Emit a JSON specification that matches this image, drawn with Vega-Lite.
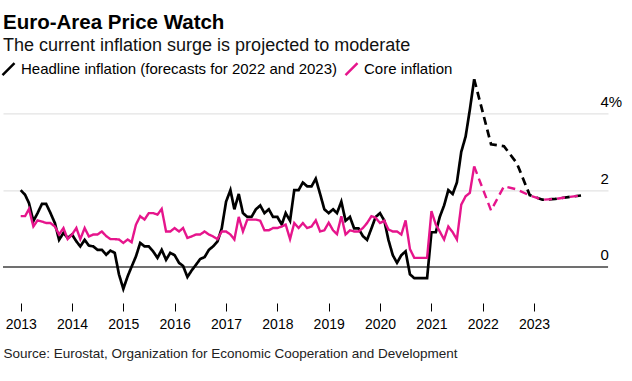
{
"$schema": "https://vega.github.io/schema/vega-lite/v6.json",
"width": 605, "height": 227.6,
"autosize": {"type": "none"},
"padding": {"left": 3, "top": 75.4, "right": 24, "bottom": 78},
"background": "white",
"config": {"font": "Liberation Sans", "view": {"stroke": null}},
"title": {"text": "Euro-Area Price Watch", "subtitle": "The current inflation surge is projected to moderate", "anchor": "start", "frame": "group", "fontSize": 20.5, "fontWeight": "bold", "color": "#000000", "subtitleFontSize": 18, "subtitleColor": "#111111", "subtitlePadding": 4, "offset": 6},
"data": {"values": [
{"d":"2013-01-01","s":"H","k":"a","v":2.0},{"d":"2013-02-01","s":"H","k":"a","v":1.88},{"d":"2013-03-01","s":"H","k":"a","v":1.66},{"d":"2013-04-01","s":"H","k":"a","v":1.19},{"d":"2013-05-01","s":"H","k":"a","v":1.4},{"d":"2013-06-01","s":"H","k":"a","v":1.64},{"d":"2013-07-01","s":"H","k":"a","v":1.64},{"d":"2013-08-01","s":"H","k":"a","v":1.4},{"d":"2013-09-01","s":"H","k":"a","v":1.14},{"d":"2013-10-01","s":"H","k":"a","v":0.7},{"d":"2013-11-01","s":"H","k":"a","v":0.88},{"d":"2013-12-01","s":"H","k":"a","v":0.75},
{"d":"2014-01-01","s":"H","k":"a","v":0.84},{"d":"2014-02-01","s":"H","k":"a","v":0.66},{"d":"2014-03-01","s":"H","k":"a","v":0.53},{"d":"2014-04-01","s":"H","k":"a","v":0.7},{"d":"2014-05-01","s":"H","k":"a","v":0.55},{"d":"2014-06-01","s":"H","k":"a","v":0.53},{"d":"2014-07-01","s":"H","k":"a","v":0.44},{"d":"2014-08-01","s":"H","k":"a","v":0.44},{"d":"2014-09-01","s":"H","k":"a","v":0.31},{"d":"2014-10-01","s":"H","k":"a","v":0.42},{"d":"2014-11-01","s":"H","k":"a","v":0.36},{"d":"2014-12-01","s":"H","k":"a","v":-0.2},
{"d":"2015-01-01","s":"H","k":"a","v":-0.58},{"d":"2015-02-01","s":"H","k":"a","v":-0.25},{"d":"2015-03-01","s":"H","k":"a","v":0.0},{"d":"2015-04-01","s":"H","k":"a","v":0.27},{"d":"2015-05-01","s":"H","k":"a","v":0.62},{"d":"2015-06-01","s":"H","k":"a","v":0.53},{"d":"2015-07-01","s":"H","k":"a","v":0.53},{"d":"2015-08-01","s":"H","k":"a","v":0.4},{"d":"2015-09-01","s":"H","k":"a","v":0.23},{"d":"2015-10-01","s":"H","k":"a","v":0.44},{"d":"2015-11-01","s":"H","k":"a","v":0.18},{"d":"2015-12-01","s":"H","k":"a","v":0.36},
{"d":"2016-01-01","s":"H","k":"a","v":0.3},{"d":"2016-02-01","s":"H","k":"a","v":0.1},{"d":"2016-03-01","s":"H","k":"a","v":0.02},{"d":"2016-04-01","s":"H","k":"a","v":-0.27},{"d":"2016-05-01","s":"H","k":"a","v":-0.1},{"d":"2016-06-01","s":"H","k":"a","v":0.05},{"d":"2016-07-01","s":"H","k":"a","v":0.2},{"d":"2016-08-01","s":"H","k":"a","v":0.25},{"d":"2016-09-01","s":"H","k":"a","v":0.44},{"d":"2016-10-01","s":"H","k":"a","v":0.53},{"d":"2016-11-01","s":"H","k":"a","v":0.66},{"d":"2016-12-01","s":"H","k":"a","v":1.0},
{"d":"2017-01-01","s":"H","k":"a","v":1.7},{"d":"2017-02-01","s":"H","k":"a","v":2.0},{"d":"2017-03-01","s":"H","k":"a","v":1.5},{"d":"2017-04-01","s":"H","k":"a","v":1.9},{"d":"2017-05-01","s":"H","k":"a","v":1.4},{"d":"2017-06-01","s":"H","k":"a","v":1.3},{"d":"2017-07-01","s":"H","k":"a","v":1.3},{"d":"2017-08-01","s":"H","k":"a","v":1.5},{"d":"2017-09-01","s":"H","k":"a","v":1.6},{"d":"2017-10-01","s":"H","k":"a","v":1.4},{"d":"2017-11-01","s":"H","k":"a","v":1.5},{"d":"2017-12-01","s":"H","k":"a","v":1.3},
{"d":"2018-01-01","s":"H","k":"a","v":1.3},{"d":"2018-02-01","s":"H","k":"a","v":1.1},{"d":"2018-03-01","s":"H","k":"a","v":1.4},{"d":"2018-04-01","s":"H","k":"a","v":1.2},{"d":"2018-05-01","s":"H","k":"a","v":2.0},{"d":"2018-06-01","s":"H","k":"a","v":2.0},{"d":"2018-07-01","s":"H","k":"a","v":2.2},{"d":"2018-08-01","s":"H","k":"a","v":2.1},{"d":"2018-09-01","s":"H","k":"a","v":2.1},{"d":"2018-10-01","s":"H","k":"a","v":2.3},{"d":"2018-11-01","s":"H","k":"a","v":1.9},{"d":"2018-12-01","s":"H","k":"a","v":1.5},
{"d":"2019-01-01","s":"H","k":"a","v":1.4},{"d":"2019-02-01","s":"H","k":"a","v":1.5},{"d":"2019-03-01","s":"H","k":"a","v":1.4},{"d":"2019-04-01","s":"H","k":"a","v":1.7},{"d":"2019-05-01","s":"H","k":"a","v":1.2},{"d":"2019-06-01","s":"H","k":"a","v":1.3},{"d":"2019-07-01","s":"H","k":"a","v":1.0},{"d":"2019-08-01","s":"H","k":"a","v":1.0},{"d":"2019-09-01","s":"H","k":"a","v":0.8},{"d":"2019-10-01","s":"H","k":"a","v":0.7},{"d":"2019-11-01","s":"H","k":"a","v":1.0},{"d":"2019-12-01","s":"H","k":"a","v":1.3},
{"d":"2020-01-01","s":"H","k":"a","v":1.4},{"d":"2020-02-01","s":"H","k":"a","v":1.2},{"d":"2020-03-01","s":"H","k":"a","v":0.7},{"d":"2020-04-01","s":"H","k":"a","v":0.3},{"d":"2020-05-01","s":"H","k":"a","v":0.1},{"d":"2020-06-01","s":"H","k":"a","v":0.3},{"d":"2020-07-01","s":"H","k":"a","v":0.4},{"d":"2020-08-01","s":"H","k":"a","v":-0.2},{"d":"2020-09-01","s":"H","k":"a","v":-0.3},{"d":"2020-10-01","s":"H","k":"a","v":-0.3},{"d":"2020-11-01","s":"H","k":"a","v":-0.3},{"d":"2020-12-01","s":"H","k":"a","v":-0.3},
{"d":"2021-01-01","s":"H","k":"a","v":0.9},{"d":"2021-02-01","s":"H","k":"a","v":0.9},{"d":"2021-03-01","s":"H","k":"a","v":1.3},{"d":"2021-04-01","s":"H","k":"a","v":1.6},{"d":"2021-05-01","s":"H","k":"a","v":2.0},{"d":"2021-06-01","s":"H","k":"a","v":1.9},{"d":"2021-07-01","s":"H","k":"a","v":2.2},{"d":"2021-08-01","s":"H","k":"a","v":3.0},{"d":"2021-09-01","s":"H","k":"a","v":3.4},{"d":"2021-10-01","s":"H","k":"a","v":4.1},{"d":"2021-11-01","s":"H","k":"a","v":4.9},
{"d":"2021-11-01","s":"H","k":"f","v":4.9},{"d":"2022-03-01","s":"H","k":"f","v":3.2},{"d":"2022-06-01","s":"H","k":"f","v":3.15},{"d":"2022-09-01","s":"H","k":"f","v":2.7},{"d":"2022-12-01","s":"H","k":"f","v":1.87},{"d":"2023-03-01","s":"H","k":"f","v":1.75},{"d":"2023-06-01","s":"H","k":"f","v":1.77},{"d":"2023-09-01","s":"H","k":"f","v":1.82},{"d":"2023-12-01","s":"H","k":"f","v":1.86},
{"d":"2013-01-01","s":"C","k":"a","v":1.32},{"d":"2013-02-01","s":"C","k":"a","v":1.32},{"d":"2013-03-01","s":"C","k":"a","v":1.51},{"d":"2013-04-01","s":"C","k":"a","v":1.05},{"d":"2013-05-01","s":"C","k":"a","v":1.21},{"d":"2013-06-01","s":"C","k":"a","v":1.18},{"d":"2013-07-01","s":"C","k":"a","v":1.14},{"d":"2013-08-01","s":"C","k":"a","v":1.14},{"d":"2013-09-01","s":"C","k":"a","v":1.05},{"d":"2013-10-01","s":"C","k":"a","v":0.84},{"d":"2013-11-01","s":"C","k":"a","v":1.01},{"d":"2013-12-01","s":"C","k":"a","v":0.72},
{"d":"2014-01-01","s":"C","k":"a","v":0.84},{"d":"2014-02-01","s":"C","k":"a","v":1.01},{"d":"2014-03-01","s":"C","k":"a","v":0.72},{"d":"2014-04-01","s":"C","k":"a","v":1.01},{"d":"2014-05-01","s":"C","k":"a","v":0.79},{"d":"2014-06-01","s":"C","k":"a","v":0.84},{"d":"2014-07-01","s":"C","k":"a","v":0.84},{"d":"2014-08-01","s":"C","k":"a","v":0.92},{"d":"2014-09-01","s":"C","k":"a","v":0.8},{"d":"2014-10-01","s":"C","k":"a","v":0.72},{"d":"2014-11-01","s":"C","k":"a","v":0.72},{"d":"2014-12-01","s":"C","k":"a","v":0.71},
{"d":"2015-01-01","s":"C","k":"a","v":0.62},{"d":"2015-02-01","s":"C","k":"a","v":0.71},{"d":"2015-03-01","s":"C","k":"a","v":0.64},{"d":"2015-04-01","s":"C","k":"a","v":1.1},{"d":"2015-05-01","s":"C","k":"a","v":1.32},{"d":"2015-06-01","s":"C","k":"a","v":1.23},{"d":"2015-07-01","s":"C","k":"a","v":1.4},{"d":"2015-08-01","s":"C","k":"a","v":1.4},{"d":"2015-09-01","s":"C","k":"a","v":1.36},{"d":"2015-10-01","s":"C","k":"a","v":1.51},{"d":"2015-11-01","s":"C","k":"a","v":0.92},{"d":"2015-12-01","s":"C","k":"a","v":0.92},
{"d":"2016-01-01","s":"C","k":"a","v":1.01},{"d":"2016-02-01","s":"C","k":"a","v":0.92},{"d":"2016-03-01","s":"C","k":"a","v":1.01},{"d":"2016-04-01","s":"C","k":"a","v":0.75},{"d":"2016-05-01","s":"C","k":"a","v":0.79},{"d":"2016-06-01","s":"C","k":"a","v":0.84},{"d":"2016-07-01","s":"C","k":"a","v":0.84},{"d":"2016-08-01","s":"C","k":"a","v":0.92},{"d":"2016-09-01","s":"C","k":"a","v":0.84},{"d":"2016-10-01","s":"C","k":"a","v":0.79},{"d":"2016-11-01","s":"C","k":"a","v":0.72},{"d":"2016-12-01","s":"C","k":"a","v":0.92},
{"d":"2017-01-01","s":"C","k":"a","v":0.92},{"d":"2017-02-01","s":"C","k":"a","v":0.84},{"d":"2017-03-01","s":"C","k":"a","v":0.71},{"d":"2017-04-01","s":"C","k":"a","v":1.3},{"d":"2017-05-01","s":"C","k":"a","v":0.92},{"d":"2017-06-01","s":"C","k":"a","v":1.23},{"d":"2017-07-01","s":"C","k":"a","v":1.23},{"d":"2017-08-01","s":"C","k":"a","v":1.23},{"d":"2017-09-01","s":"C","k":"a","v":1.2},{"d":"2017-10-01","s":"C","k":"a","v":0.95},{"d":"2017-11-01","s":"C","k":"a","v":0.95},{"d":"2017-12-01","s":"C","k":"a","v":1.01},
{"d":"2018-01-01","s":"C","k":"a","v":1.01},{"d":"2018-02-01","s":"C","k":"a","v":1.05},{"d":"2018-03-01","s":"C","k":"a","v":1.1},{"d":"2018-04-01","s":"C","k":"a","v":0.72},{"d":"2018-05-01","s":"C","k":"a","v":1.14},{"d":"2018-06-01","s":"C","k":"a","v":1.01},{"d":"2018-07-01","s":"C","k":"a","v":1.14},{"d":"2018-08-01","s":"C","k":"a","v":1.01},{"d":"2018-09-01","s":"C","k":"a","v":1.05},{"d":"2018-10-01","s":"C","k":"a","v":1.21},{"d":"2018-11-01","s":"C","k":"a","v":0.92},{"d":"2018-12-01","s":"C","k":"a","v":0.95},
{"d":"2019-01-01","s":"C","k":"a","v":1.15},{"d":"2019-02-01","s":"C","k":"a","v":0.95},{"d":"2019-03-01","s":"C","k":"a","v":0.85},{"d":"2019-04-01","s":"C","k":"a","v":1.32},{"d":"2019-05-01","s":"C","k":"a","v":0.84},{"d":"2019-06-01","s":"C","k":"a","v":0.95},{"d":"2019-07-01","s":"C","k":"a","v":0.92},{"d":"2019-08-01","s":"C","k":"a","v":0.92},{"d":"2019-09-01","s":"C","k":"a","v":1.01},{"d":"2019-10-01","s":"C","k":"a","v":1.14},{"d":"2019-11-01","s":"C","k":"a","v":1.32},{"d":"2019-12-01","s":"C","k":"a","v":1.28},
{"d":"2020-01-01","s":"C","k":"a","v":1.14},{"d":"2020-02-01","s":"C","k":"a","v":1.2},{"d":"2020-03-01","s":"C","k":"a","v":0.97},{"d":"2020-04-01","s":"C","k":"a","v":0.92},{"d":"2020-05-01","s":"C","k":"a","v":0.92},{"d":"2020-06-01","s":"C","k":"a","v":0.84},{"d":"2020-07-01","s":"C","k":"a","v":1.21},{"d":"2020-08-01","s":"C","k":"a","v":0.46},{"d":"2020-09-01","s":"C","k":"a","v":0.23},{"d":"2020-10-01","s":"C","k":"a","v":0.23},{"d":"2020-11-01","s":"C","k":"a","v":0.23},{"d":"2020-12-01","s":"C","k":"a","v":0.23},
{"d":"2021-01-01","s":"C","k":"a","v":1.45},{"d":"2021-02-01","s":"C","k":"a","v":1.1},{"d":"2021-03-01","s":"C","k":"a","v":0.92},{"d":"2021-04-01","s":"C","k":"a","v":0.71},{"d":"2021-05-01","s":"C","k":"a","v":1.05},{"d":"2021-06-01","s":"C","k":"a","v":0.9},{"d":"2021-07-01","s":"C","k":"a","v":0.71},{"d":"2021-08-01","s":"C","k":"a","v":1.62},{"d":"2021-09-01","s":"C","k":"a","v":1.84},{"d":"2021-10-01","s":"C","k":"a","v":1.93},{"d":"2021-11-01","s":"C","k":"a","v":2.62},
{"d":"2021-11-01","s":"C","k":"f","v":2.62},{"d":"2022-03-01","s":"C","k":"f","v":1.47},{"d":"2022-06-01","s":"C","k":"f","v":2.1},{"d":"2022-09-01","s":"C","k":"f","v":2.02},{"d":"2022-12-01","s":"C","k":"f","v":1.86},{"d":"2023-03-01","s":"C","k":"f","v":1.75},{"d":"2023-06-01","s":"C","k":"f","v":1.77},{"d":"2023-09-01","s":"C","k":"f","v":1.82},{"d":"2023-12-01","s":"C","k":"f","v":1.86}
]},
"layer": [
{"mark": {"type": "rule", "color": "#707070", "strokeWidth": 1.2}, "encoding": {"y": {"datum": 0, "type": "quantitative"}}},
{"transform": [{"filter": "datum.s == 'H'"}],
 "mark": {"type": "line", "strokeWidth": 2.7},
 "encoding": {
  "x": {"field": "d", "type": "temporal", "scale": {"type": "utc", "domain": [{"year": 2012, "month": 8, "date": 28, "utc": true}, {"year": 2024, "month": 6, "date": 10, "utc": true}]},
   "axis": {"values": [{"year": 2013, "utc": true}, {"year": 2014, "utc": true}, {"year": 2015, "utc": true}, {"year": 2016, "utc": true}, {"year": 2017, "utc": true}, {"year": 2018, "utc": true}, {"year": 2019, "utc": true}, {"year": 2020, "utc": true}, {"year": 2021, "utc": true}, {"year": 2022, "utc": true}, {"year": 2023, "utc": true}],
    "format": "%Y", "domain": false, "grid": false, "ticks": true, "tickSize": 8, "tickColor": "#000000", "tickWidth": 1, "labelFontSize": 14, "labelColor": "#000000", "labelPadding": 6, "labelFlush": false, "labelOverlap": false,
    "title": "Source: Eurostat, Organization for Economic Cooperation and Development", "titleFontSize": 13.5, "titleFontWeight": "normal", "titleColor": "#222222", "titleAnchor": "start", "titleAlign": "left", "titleX": 0, "titleY": 54, "titleBaseline": "alphabetic"}},
  "y": {"field": "v", "type": "quantitative", "scale": {"domain": [-0.95, 5.0], "nice": false, "zero": false},
   "axis": {"orient": "right", "values": [0, 2, 4], "domain": false, "ticks": false, "grid": true, "gridColor": "#dcdcdc", "gridWidth": 1, "labelAlign": "left", "labelPadding": -8, "labelBaseline": "alphabetic", "labelOffset": -7, "labelFontSize": 15, "labelColor": "#000000", "labelExpr": "datum.value == 4 ? '4%' : datum.label", "title": null}},
  "color": {"field": "s", "type": "nominal", "scale": {"domain": ["H", "C"], "range": ["#000000", "#e6158c"]},
   "legend": {"orient": "none", "legendX": -2, "legendY": -14, "direction": "horizontal", "title": null, "symbolType": "M-1,1L1,-1", "symbolSize": 144, "symbolStrokeWidth": 2.5, "labelFontSize": 15, "labelColor": "#000000", "labelOffset": 5, "columnPadding": 2, "padding": 0, "labelLimit": 500, "labelExpr": "datum.value == 'H' ? 'Headline inflation (forecasts for 2022 and 2023)' : 'Core inflation'"}},
  "strokeDash": {"field": "k", "type": "nominal", "scale": {"domain": ["a", "f"], "range": [[1, 0], [8, 5]]}, "legend": null}
 }},
{"transform": [{"filter": "datum.s == 'C'"}],
 "mark": {"type": "line", "strokeWidth": 2.4},
 "encoding": {
  "x": {"field": "d", "type": "temporal"},
  "y": {"field": "v", "type": "quantitative"},
  "color": {"field": "s", "type": "nominal"},
  "strokeDash": {"field": "k", "type": "nominal"}
 }}
]
}
